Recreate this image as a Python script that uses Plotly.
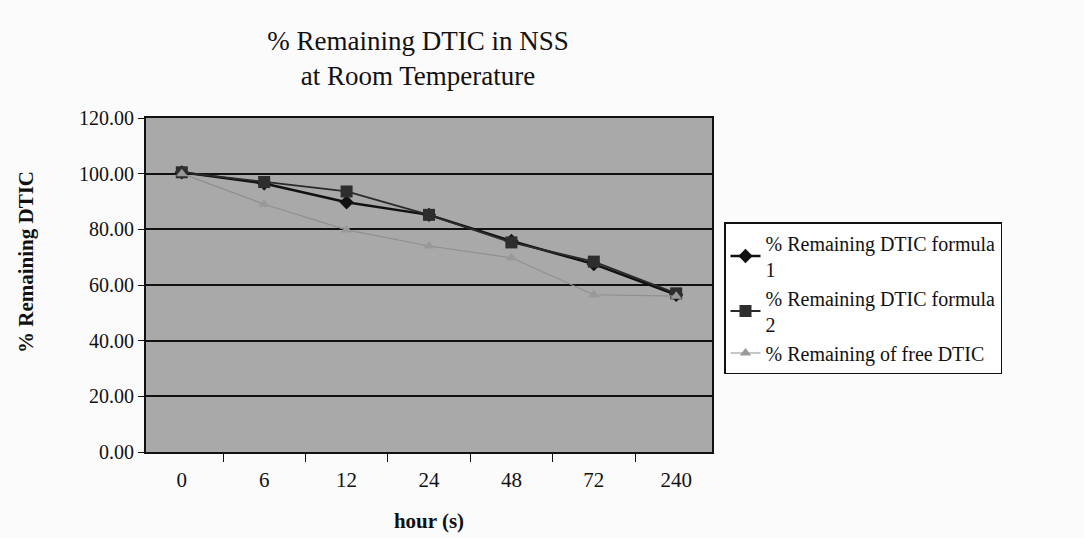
import plotly.graph_objects as go

hours = ["0", "6", "12", "24", "48", "72", "240"]
formula1 = [100.5, 96.5, 89.7, 85.2, 75.8, 67.5, 56.5]
formula2 = [100.5, 97.0, 93.6, 85.2, 75.3, 68.4, 57.0]
free_dtic = [100.0, 89.0, 79.8, 74.0, 69.8, 56.5, 56.0]

names = ["% Remaining DTIC formula<br>1", "% Remaining DTIC formula<br>2", "% Remaining of free DTIC"]

FONT = "Liberation Serif, Times New Roman, serif"
W, H = 1084, 538
L, R, T, B = 146, 372, 118, 86

fig = go.Figure()
fig.add_trace(go.Scatter(x=hours, y=formula1, name=names[0], mode="lines+markers",
                         line=dict(color="#111111", width=2.5),
                         marker=dict(symbol="diamond", size=11, color="#111111")))
fig.add_trace(go.Scatter(x=hours, y=formula2, name=names[1], mode="lines+markers",
                         line=dict(color="#2a2a2a", width=1.8),
                         marker=dict(symbol="square", size=12, color="#2e2e2e")))
fig.add_trace(go.Scatter(x=hours, y=free_dtic, name=names[2], mode="lines+markers",
                         line=dict(color="#8f8f8f", width=1.2),
                         marker=dict(symbol="triangle-up", size=10, color="#999999")))

pw, ph = W - L - R, H - T - B

fig.update_layout(
    width=W, height=H,
    margin=dict(l=L, r=R, t=T, b=B),
    paper_bgcolor="#fbfbfb",
    plot_bgcolor="#a9a9a9",
    font=dict(family=FONT, size=20, color="#111111"),
    title=dict(text="% Remaining DTIC in NSS<br>at Room Temperature",
               x=418/W, xanchor="center", y=1 - 50/H, yanchor="top",
               font=dict(family=FONT, size=27, color="#111111")),
    showlegend=True,
    legend=dict(x=(724 - L)/pw, xanchor="left", y=(H - B - 222)/ph, yanchor="top",
                bgcolor="#ffffff", bordercolor="#111111", borderwidth=1.5,
                font=dict(family=FONT, size=20, color="#111111"),
                tracegroupgap=0, itemwidth=30),
    annotations=[dict(text="<b>% Remaining DTIC</b>", textangle=-90,
                      x=(26 - L)/pw, y=(H - B - 262)/ph, xref="paper", yref="paper",
                      xanchor="center", yanchor="middle", showarrow=False,
                      font=dict(family=FONT, size=21, color="#111111"))],
)
fig.update_xaxes(
    type="category", tickson="boundaries", ticks="outside", ticklen=8, tickcolor="#111111",
    ticklabelstandoff=8, automargin=False,
    showline=True, linecolor="#111111", linewidth=2, mirror=True, showgrid=False,
    tickfont=dict(family=FONT, size=21, color="#111111"),
    title=dict(text="<b>hour (s)</b>", font=dict(family=FONT, size=21, color="#111111"), standoff=22),
)
fig.update_yaxes(
    range=[0, 120], dtick=20, tickformat=".2f", ticks="outside", ticklen=6, tickcolor="#111111",
    showline=True, linecolor="#111111", linewidth=2, mirror=True, automargin=False,
    showgrid=True, gridcolor="#111111", gridwidth=1.5, zeroline=False,
    tickfont=dict(family=FONT, size=20, color="#111111"),
)

fig.write_html("out.html")
